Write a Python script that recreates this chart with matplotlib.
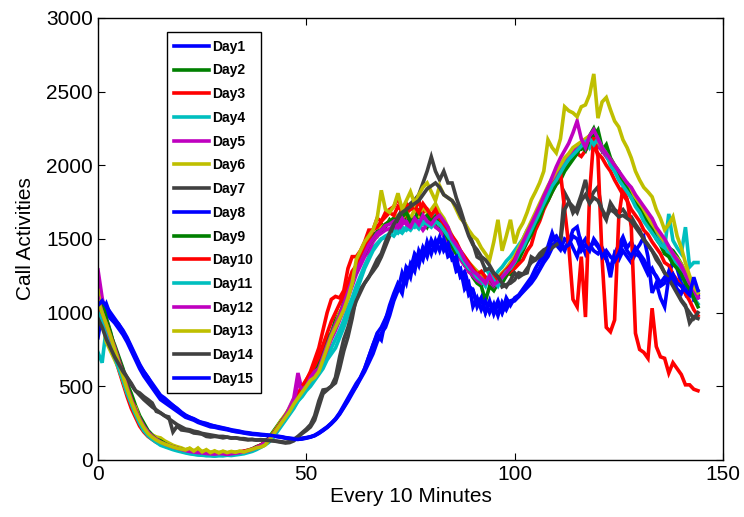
import numpy as np
import matplotlib
matplotlib.use("Agg")
import matplotlib.pyplot as plt

# ---------------- data (call activities every 10 minutes, 145 samples) ----------------
day1 = [830, 1000, 1060, 980, 950, 920, 880, 830, 770, 710,
        650, 600, 560, 510, 470, 430, 410, 390, 370, 350,
        325, 305, 290, 280, 265, 250, 245, 235, 230, 220,
        215, 210, 200, 195, 192, 186, 182, 178, 175, 172,
        170, 168, 166, 162, 158, 152, 148, 145, 142, 148,
        152, 158, 168, 185, 205, 225, 250, 280, 320, 370,
        420, 470, 520, 560, 620, 700, 780, 850, 815, 950,
        1050, 1130, 1200, 1160, 1310, 1290, 1400, 1360, 1440, 1400,
        1494, 1440, 1514, 1420, 1460, 1380, 1340, 1250, 1280, 1180,
        1154, 1060, 1100, 1000, 1080, 990, 1060, 1000, 1100, 1050,
        1100, 1120, 1160, 1200, 1240, 1300, 1350, 1400, 1450, 1540,
        1460, 1426, 1500, 1480, 1560, 1582, 1460, 1500, 1440, 1480,
        1446, 1400, 1360, 1300, 1400, 1460, 1514, 1440, 1480, 1420,
        1460, 1514, 1380, 1134, 1200, 1100, 1039, 1240, 1358, 1300,
        1200, 1130, 1200, 1086, 1100]
day2 = [1080, 1000, 930, 850, 780, 700, 620, 520, 450, 370,
        300, 250, 200, 170, 150, 120, 105, 95, 80, 78,
        70, 62, 55, 50, 48, 44, 40, 38, 42, 40,
        38, 42, 45, 44, 50, 55, 60, 70, 85, 100,
        120, 150, 190, 230, 270, 300, 350, 410, 430, 480,
        520, 560, 620, 640, 760, 830, 860, 950, 1000, 1040,
        1130, 1250, 1320, 1340, 1440, 1480, 1540, 1520, 1600, 1580,
        1630, 1600, 1610, 1660, 1620, 1640, 1600, 1660, 1620, 1580,
        1640, 1590, 1560, 1600, 1520, 1470, 1420, 1380, 1320, 1300,
        1240, 1200, 1180, 1080, 1180, 1150, 1200, 1230, 1280, 1260,
        1320, 1400, 1460, 1500, 1590, 1640, 1700, 1780, 1820, 1880,
        1930, 1990, 2000, 2060, 2080, 2120, 2110, 2150, 2200, 2250,
        2180, 2100, 2140, 2050, 2000, 1960, 1900, 1880, 1830, 1780,
        1740, 1700, 1660, 1580, 1540, 1500, 1480, 1440, 1420, 1380,
        1330, 1270, 1220, 1180, 1150]
day3 = [1020, 960, 880, 790, 700, 610, 520, 430, 350, 290,
        230, 190, 160, 140, 120, 110, 95, 85, 75, 70,
        62, 58, 54, 50, 48, 45, 52, 48, 42, 50,
        45, 40, 48, 46, 50, 54, 60, 68, 78, 90,
        105, 125, 160, 200, 240, 280, 320, 370, 420, 480,
        540, 600, 680, 760, 880, 1000, 1090, 1110, 1100, 1150,
        1300, 1380, 1380, 1420, 1480, 1560, 1560, 1640, 1620, 1680,
        1700, 1720, 1780, 1700, 1660, 1720, 1690, 1760, 1680, 1700,
        1640, 1680, 1620, 1560, 1520, 1460, 1440, 1380, 1340, 1280,
        1300, 1240, 1260, 1220, 1200, 1240, 1200, 1220, 1250, 1280,
        1300, 1330, 1360, 1420, 1460, 1560, 1620, 1700, 1760, 1820,
        1880, 1930, 1980, 2020, 2050, 2080, 2060, 2100, 2140, 2120,
        2080, 2050, 2000, 1960, 1900, 1850, 1800, 1760, 1700, 1660,
        1620, 1560, 1530, 1480, 1440, 1400, 1340, 1320, 1260, 1220,
        1180, 1130, 1080, 1020, 980]
day4 = [730, 660, 900, 860, 760, 660, 560, 470, 380, 310,
        250, 200, 165, 140, 120, 100, 90, 80, 70, 62,
        55, 48, 42, 38, 34, 32, 30, 32, 28, 30,
        28, 32, 30, 34, 38, 42, 50, 58, 70, 85,
        100, 120, 150, 190, 230, 270, 310, 350, 400, 440,
        480, 520, 560, 600, 640, 700, 760, 820, 880, 950,
        1030, 1100, 1180, 1250, 1320, 1380, 1440, 1470, 1500, 1520,
        1530, 1560, 1540, 1580, 1560, 1600, 1580, 1620, 1600, 1640,
        1660, 1680, 1640, 1620, 1560, 1500, 1460, 1400, 1360, 1320,
        1300, 1280, 1250, 1300, 1260, 1240, 1280, 1310, 1350, 1380,
        1420, 1460, 1500, 1560, 1600, 1660, 1720, 1780, 1830, 1880,
        1930, 1970, 2000, 2060, 2080, 2100, 2140, 2170, 2120, 2180,
        2140, 2100, 2060, 2020, 1960, 1920, 1880, 1840, 1800, 1760,
        1700, 1660, 1610, 1560, 1520, 1480, 1440, 1400, 1360, 1320,
        1270, 1220, 1170, 1100, 1060]
day5 = [1290, 1100, 960, 860, 760, 680, 590, 500, 410, 340,
        270, 220, 180, 155, 135, 118, 105, 95, 85, 76,
        70, 62, 56, 52, 48, 44, 42, 44, 46, 42,
        40, 44, 46, 50, 52, 56, 62, 70, 80, 95,
        112, 135, 165, 205, 250, 300, 360, 420, 590, 470,
        480, 520, 570, 620, 680, 750, 820, 880, 950, 1020,
        1100, 1180, 1260, 1320, 1380, 1420, 1480, 1520, 1540, 1560,
        1570, 1590, 1560, 1600, 1620, 1590, 1640, 1600, 1560, 1600,
        1620, 1580, 1560, 1520, 1480, 1440, 1400, 1360, 1320, 1280,
        1250, 1220, 1200, 1240, 1210, 1180, 1220, 1250, 1280, 1320,
        1360, 1400, 1460, 1520, 1580, 1640, 1700, 1760, 1820, 1880,
        1920, 1970, 2010, 2050, 2090, 2120, 2140, 2170, 2200, 2150,
        2130, 2100, 2060, 2020, 1980, 1940, 1890, 1850, 1800, 1760,
        1720, 1680, 1640, 1600, 1560, 1520, 1480, 1440, 1400, 1360,
        1310, 1260, 1200, 1150, 1100]
day6 = [1150, 950, 800, 740, 680, 620, 540, 455, 400, 360,
        280, 217, 183, 170, 156, 150, 130, 115, 100, 90,
        82, 70, 78, 62, 70, 58, 64, 52, 58, 50,
        56, 48, 54, 50, 58, 54, 62, 70, 80, 88,
        100, 130, 183, 224, 271, 310, 350, 400, 450, 480,
        520, 560, 600, 640, 700, 780, 860, 920, 1000, 1040,
        1100, 1200, 1300, 1350, 1420, 1460, 1500, 1540, 1580, 1600,
        1620, 1640, 1660, 1640, 1680, 1640, 1700, 1660, 1720, 1680,
        1700, 1740, 1680, 1640, 1580, 1520, 1460, 1420, 1380, 1340,
        1310, 1280, 1260, 1240, 1220, 1250, 1240, 1270, 1300, 1340,
        1380, 1440, 1500, 1560, 1620, 1680, 1740, 1800, 1860, 1910,
        1960, 2000, 2050, 2080, 2120, 2140, 2160, 2180, 2200, 2180,
        2160, 2120, 2080, 2040, 2000, 1950, 1900, 1860, 1820, 1770,
        1730, 1690, 1640, 1600, 1560, 1520, 1480, 1440, 1400, 1370,
        1330, 1280, 1220, 1180, 1130]
day7 = [1000, 1018, 850, 780, 726, 680, 611, 560, 520, 470,
        455, 430, 410, 387, 330, 319, 300, 292, 190, 230,
        204, 200, 195, 183, 180, 175, 160, 156, 160, 156,
        150, 155, 148, 150, 145, 140, 136, 140, 135, 138,
        136, 134, 130, 125, 120, 115, 118, 130, 156, 180,
        200, 224, 270, 360, 450, 475, 500, 523, 620, 740,
        835, 960, 1107, 1160, 1200, 1243, 1280, 1320, 1378, 1450,
        1520, 1600, 1650, 1700, 1711, 1740, 1765, 1800, 1880, 1960,
        2057, 1960, 1901, 1960, 1880, 1880, 1780, 1700, 1609, 1540,
        1470, 1378, 1360, 1290, 1300, 1260, 1240, 1175, 1190, 1200,
        1222, 1270, 1260, 1270, 1378, 1360, 1400, 1426, 1440, 1460,
        1473, 1500, 1813, 1760, 1677, 1718, 1800, 1901, 1765, 1820,
        1853, 1680, 1630, 1745, 1700, 1677, 1700, 1660, 1650, 1600,
        1560, 1494, 1460, 1420, 1380, 1330, 1270, 1230, 1190, 1150,
        1086, 1050, 930, 971, 960]
day8 = [1086, 1060, 1000, 960, 930, 890, 850, 800, 740, 680,
        620, 570, 530, 490, 450, 410, 390, 370, 350, 330,
        310, 290, 280, 270, 255, 245, 235, 225, 222, 215,
        210, 205, 198, 192, 188, 183, 178, 174, 172, 170,
        168, 164, 162, 158, 154, 148, 144, 140, 140, 145,
        150, 156, 165, 180, 200, 222, 248, 275, 315, 360,
        410, 460, 500, 550, 600, 660, 720, 800, 860, 900,
        980, 1080, 1150, 1270, 1200, 1330, 1280, 1420, 1360, 1480,
        1400, 1490, 1420, 1500, 1380, 1400, 1280, 1300, 1160, 1200,
        1040, 1100, 1020, 1080, 1000, 1060, 980, 1070, 1020, 1080,
        1090, 1110, 1140, 1170, 1200, 1240, 1290, 1340, 1380, 1440,
        1480, 1460, 1420, 1500, 1440, 1380, 1480, 1400, 1460, 1420,
        1400, 1440, 1380, 1240, 1400, 1360, 1420, 1380, 1340, 1400,
        1380, 1320, 1260, 1300, 1240, 1180, 1200, 1280, 1220, 1160,
        1130, 1200, 1140, 1180, 1120]
day9 = [1000, 1060, 960, 870, 760, 680, 590, 500, 420, 340,
        280, 230, 195, 165, 140, 130, 112, 98, 88, 80,
        72, 66, 60, 55, 52, 48, 46, 44, 45, 42,
        44, 46, 48, 50, 54, 58, 66, 75, 90, 100,
        115, 140, 175, 215, 260, 300, 340, 380, 420, 470,
        510, 560, 610, 680, 740, 800, 860, 920, 980, 1070,
        1150, 1220, 1280, 1360, 1400, 1460, 1500, 1550, 1560, 1600,
        1620, 1640, 1600, 1650, 1680, 1620, 1640, 1690, 1640, 1660,
        1620, 1650, 1600, 1560, 1500, 1450, 1400, 1380, 1340, 1300,
        1280, 1250, 1220, 1200, 1240, 1190, 1230, 1200, 1250, 1300,
        1340, 1360, 1420, 1480, 1530, 1600, 1640, 1720, 1760, 1820,
        1870, 1900, 1960, 2000, 2040, 2080, 2130, 2100, 2180, 2200,
        2240, 2120, 2080, 2040, 1980, 1920, 1880, 1840, 1780, 1740,
        1700, 1650, 1600, 1560, 1500, 1460, 1400, 1380, 1330, 1300,
        1260, 1200, 1160, 1100, 1040]
day10 = [1060, 990, 920, 840, 760, 670, 580, 490, 410, 340,
         270, 210, 175, 150, 130, 115, 100, 92, 85, 78,
         70, 64, 60, 56, 52, 50, 48, 46, 52, 46,
         48, 44, 52, 48, 55, 60, 66, 74, 86, 100,
         118, 140, 175, 215, 255, 300, 345, 395, 450, 500,
         545, 590, 640, 700, 780, 860, 940, 1000, 1060, 1120,
         1200, 1280, 1320, 1400, 1440, 1500, 1560, 1580, 1620, 1650,
         1680, 1660, 1720, 1690, 1740, 1700, 1720, 1680, 1740, 1700,
         1660, 1700, 1640, 1600, 1560, 1520, 1480, 1420, 1380, 1340,
         1300, 1260, 1280, 1240, 1220, 1250, 1220, 1260, 1290, 1320,
         1360, 1420, 1460, 1520, 1580, 1640, 1700, 1760, 1820, 1870,
         1900, 1950, 1700, 1450, 1090, 1040, 1380, 970, 1810, 2190,
         2060, 1360, 900, 870, 950, 1650, 1850, 1770, 1580, 860,
         750, 730, 690, 1030, 770, 700, 690, 590, 660, 620,
         580, 510, 510, 480, 470]
day11 = [1000, 950, 870, 780, 700, 620, 540, 450, 380, 310,
         250, 200, 170, 145, 125, 110, 95, 85, 75, 68,
         60, 52, 46, 40, 36, 34, 30, 28, 26, 30,
         32, 34, 36, 40, 44, 50, 56, 64, 75, 88,
         105, 125, 160, 200, 240, 280, 320, 360, 400, 430,
         470, 500, 540, 580, 620, 680, 720, 760, 830, 900,
         980, 1060, 1140, 1220, 1300, 1360, 1420, 1460, 1500, 1510,
         1540, 1520, 1560, 1540, 1580, 1560, 1600, 1570, 1620, 1600,
         1580, 1620, 1600, 1560, 1520, 1480, 1430, 1380, 1340, 1300,
         1280, 1240, 1220, 1180, 1260, 1220, 1180, 1240, 1280, 1300,
         1340, 1400, 1440, 1500, 1560, 1620, 1680, 1740, 1800, 1860,
         1900, 1950, 2000, 2040, 2070, 2100, 2130, 2160, 2180, 2140,
         2180, 2120, 2080, 2000, 1960, 1900, 1860, 1820, 1780, 1720,
         1680, 1620, 1580, 1540, 1500, 1460, 1440, 1670, 1490, 1440,
         1400, 1580, 1310, 1340, 1340]
day12 = [1100, 1000, 920, 830, 760, 670, 580, 490, 410, 340,
         280, 230, 190, 160, 140, 122, 108, 98, 88, 80,
         72, 64, 58, 54, 50, 48, 44, 42, 40, 44,
         42, 38, 42, 46, 50, 55, 62, 72, 84, 98,
         115, 140, 170, 210, 255, 300, 350, 400, 520, 480,
         500, 560, 600, 620, 700, 780, 850, 920, 980, 1060,
         1140, 1220, 1280, 1340, 1400, 1460, 1500, 1540, 1560, 1590,
         1600, 1620, 1580, 1640, 1600, 1580, 1640, 1600, 1660, 1620,
         1600, 1640, 1660, 1620, 1580, 1500, 1460, 1420, 1360, 1320,
         1280, 1260, 1230, 1200, 1250, 1190, 1210, 1240, 1270, 1310,
         1350, 1420, 1480, 1540, 1600, 1660, 1720, 1790, 1850, 1920,
         1990, 2050, 2100, 2150, 2220, 2300, 2180, 2120, 2200, 2240,
         2180, 2120, 2080, 2040, 2000, 1960, 1920, 1880, 1850, 1800,
         1760, 1720, 1680, 1640, 1580, 1540, 1500, 1450, 1400, 1360,
         1320, 1260, 1200, 1160, 1110]
day13 = [1080, 1000, 920, 840, 750, 660, 570, 480, 400, 330,
         270, 220, 180, 155, 135, 120, 108, 98, 88, 80,
         74, 68, 80, 60, 81, 55, 70, 50, 62, 48,
         60, 50, 58, 52, 60, 54, 64, 72, 82, 88,
         100, 130, 170, 210, 250, 290, 330, 380, 420, 460,
         500, 540, 560, 600, 680, 760, 840, 900, 960, 1020,
         1100, 1200, 1360, 1420, 1480, 1520, 1560, 1640, 1830, 1700,
         1680, 1720, 1810, 1700, 1760, 1820, 1740, 1800, 1850, 1880,
         1820, 1760, 1860, 1800, 1780, 1760, 1700, 1640, 1610, 1560,
         1520, 1494, 1440, 1400, 1358, 1480, 1630, 1420, 1520, 1630,
         1470, 1560, 1609, 1680, 1765, 1820, 1881, 1960, 2173, 2120,
         2084, 2180, 2397, 2370, 2356, 2330, 2397, 2410, 2480, 2620,
         2320, 2430, 2460, 2377, 2300, 2260, 2173, 2120, 2050, 1960,
         1900, 1850, 1820, 1786, 1700, 1640, 1562, 1600, 1650, 1520,
         1440, 1338, 1250, 1175, 1134]
day14 = [960, 900, 820, 760, 700, 650, 600, 560, 510, 470,
         440, 410, 385, 360, 340, 320, 300, 280, 260, 240,
         225, 210, 205, 195, 190, 180, 175, 170, 165, 160,
         160, 155, 150, 150, 145, 145, 140, 138, 136, 135,
         135, 132, 130, 128, 124, 120, 125, 140, 160, 185,
         210, 240, 300, 400, 475, 480, 500, 560, 700, 820,
         900, 1000, 1080, 1140, 1200, 1240, 1300, 1360, 1400, 1480,
         1540, 1600, 1640, 1680, 1700, 1720, 1740, 1760, 1800, 1840,
         1860, 1880, 1850, 1800, 1780, 1760, 1720, 1660, 1600, 1520,
         1460, 1426, 1380, 1358, 1320, 1270, 1243, 1200, 1175, 1220,
         1270, 1240, 1260, 1300, 1340, 1358, 1380, 1400, 1420, 1440,
         1460, 1480, 1700, 1750, 1720, 1680, 1760, 1800, 1740, 1780,
         1760, 1700, 1650, 1700, 1680, 1650, 1660, 1640, 1620, 1580,
         1540, 1500, 1460, 1420, 1360, 1320, 1270, 1230, 1180, 1130,
         1080, 1040, 1000, 960, 1000]
day15 = [1050, 1080, 1040, 1000, 960, 920, 870, 820, 760, 700,
         640, 600, 560, 520, 480, 440, 420, 395, 370, 345,
         320, 300, 290, 275, 262, 255, 248, 238, 230, 225,
         218, 212, 205, 200, 195, 188, 185, 180, 178, 174,
         172, 168, 165, 160, 156, 150, 146, 142, 140, 142,
         148, 155, 165, 182, 200, 220, 245, 275, 310, 355,
         400, 450, 500, 560, 620, 700, 780, 860, 900, 960,
         1020, 1100, 1180, 1130, 1300, 1240, 1380, 1320, 1440, 1380,
         1480, 1420, 1500, 1440, 1470, 1360, 1380, 1240, 1260, 1120,
         1150, 1040, 1100, 1000, 1070, 1020, 1080, 1000, 1060, 1070,
         1080, 1110, 1150, 1180, 1220, 1260, 1300, 1360, 1420, 1500,
         1520, 1470, 1440, 1460, 1520, 1500, 1420, 1460, 1420, 1500,
         1460, 1380, 1420, 1380, 1350, 1400, 1480, 1420, 1380, 1440,
         1400, 1360, 1300, 1280, 1250, 1200, 1240, 1220, 1260, 1200,
         1180, 1150, 1120, 1240, 1150]

labels = ["Day1", "Day2", "Day3", "Day4", "Day5", "Day6", "Day7", "Day8",
          "Day9", "Day10", "Day11", "Day12", "Day13", "Day14", "Day15"]
series = [day1, day2, day3, day4, day5, day6, day7, day8,
          day9, day10, day11, day12, day13, day14, day15]
colors = ["#0000ff", "#008000", "#ff0000", "#00bfbf", "#bf00bf", "#bfbf00", "#404040",
          "#0000ff", "#008000", "#ff0000", "#00bfbf", "#bf00bf", "#bfbf00", "#404040",
          "#0000ff"]
xticks = [0, 50, 100, 150]
yticks = [0, 500, 1000, 1500, 2000, 2500, 3000]

# ---------------- plot ----------------
plt.rcParams['font.family'] = ['Liberation Sans', 'DejaVu Sans']
fig = plt.figure(figsize=(7.44, 5.17), dpi=100)
ax = fig.add_axes([0.1317, 0.1103, 0.8400, 0.8550])

for vals, lab, col in zip(series, labels, colors):
    x = np.arange(len(vals))
    ax.plot(x, vals, color=col, lw=2.6, label=lab, solid_joinstyle='miter')

ax.set_xlim(0, 150)
ax.set_ylim(0, 3000)
ax.set_xticks(xticks)
ax.set_yticks(yticks)
ax.tick_params(direction='in', top=True, right=True, labelsize=15, length=5, width=0.8)
for s in ax.spines.values():
    s.set_linewidth(1.0)
ax.set_xlabel("Every 10 Minutes", fontsize=15, labelpad=2)
ax.set_ylabel("Call Activities", fontsize=15, labelpad=8)

leg = ax.legend(loc='upper left', bbox_to_anchor=(0.110, 0.968), borderaxespad=0,
                fancybox=False, edgecolor='black', framealpha=1,
                prop={'weight': 'bold', 'size': 10}, handlelength=2.5,
                handletextpad=0.25, labelspacing=0.7, borderpad=0.55)
leg.get_frame().set_linewidth(1.0)

fig.savefig("out.png", dpi=100)
